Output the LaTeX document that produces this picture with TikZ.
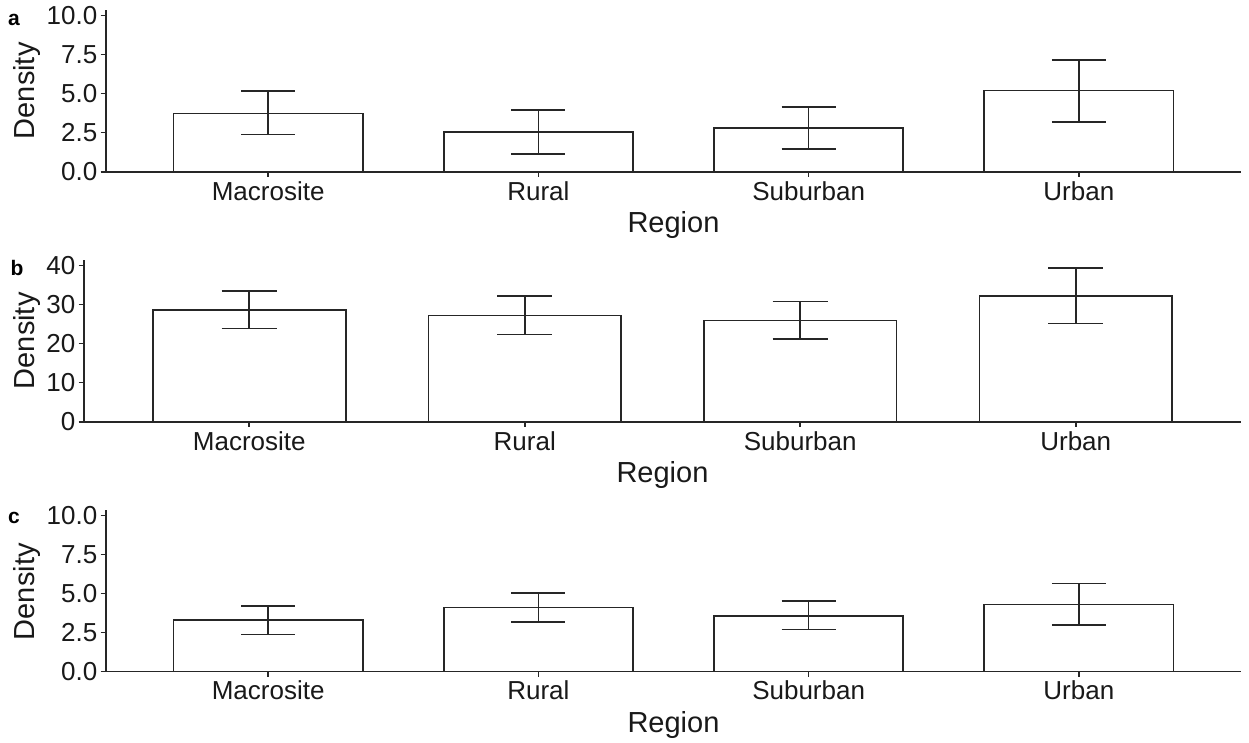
\documentclass[tikz,border=0pt]{standalone}
\usepackage{fontspec}
\setmainfont{Liberation Sans}
\tikzset{
  axisline/.style={line width=1.6pt, black!85, line cap=butt},
  barbox/.style={line width=1.6pt, black!85, fill=white},
  errbar/.style={line width=1.6pt, black!85},
  ticklbl/.style={font=\fontsize{26}{26}\selectfont, inner sep=0pt, text=black!90},
  titlelbl/.style={font=\fontsize{29}{29}\selectfont, inner sep=0pt, text=black!90},
  taglbl/.style={font=\fontsize{21}{21}\selectfont\bfseries, inner sep=0pt, anchor=base west},
}
% #1 id, #2 x0 of axis, #3 y of zero, #4 px per unit, #5 y ticks (value/label), #6 bars (name/val/lo/hi), #7 top value, #8 density title centre y
\newcommand{\drawpanel}[8]{%
  \pgfmathsetmacro{\pxA}{#2}%
  \pgfmathsetmacro{\pzY}{#3}%
  \pgfmathsetmacro{\pk}{#4}%
  \pgfmathsetmacro{\psp}{(1241-#2)/4.2}%
  \pgfmathsetmacro{\ptopY}{#3-#7*#4-5}%
  % axes
  \draw[axisline] (\pxA,\ptopY) coordinate (#1-ytop) -- (\pxA,\pzY) coordinate (#1-orig) -- (1241,\pzY) coordinate (#1-xend);
  % y ticks
  \foreach \tv/\tl in {#5}{%
    \pgfmathsetmacro{\ty}{\pzY-\tv*\pk}%
    \draw[axisline] (\pxA-5.5,\ty) -- (\pxA,\ty);
    \node[ticklbl, anchor=east] (#1-yt-\tv) at (\pxA-8.5,\ty) {\tl};
  }
  % bars
  \foreach \bn/\bv/\blo/\bhi [count=\bi from 0] in {#6}{%
    \pgfmathsetmacro{\cx}{\pxA+\psp*(0.6+\bi)}%
    \pgfmathsetmacro{\hw}{0.35*\psp}%
    \pgfmathsetmacro{\cw}{0.1*\psp}%
    \pgfmathsetmacro{\by}{\pzY-\bv*\pk}%
    \pgfmathsetmacro{\ely}{\pzY-\blo*\pk}%
    \pgfmathsetmacro{\ehy}{\pzY-\bhi*\pk}%
    \draw[barbox] (\cx-\hw,\pzY) rectangle (\cx+\hw,\by);
    \draw[errbar] (\cx-\cw,\ehy) -- (\cx+\cw,\ehy) (\cx,\ehy) -- (\cx,\ely) (\cx-\cw,\ely) -- (\cx+\cw,\ely);
    \draw[axisline] (\cx,\pzY) -- (\cx,\pzY+5.5);
    \node[ticklbl, anchor=base] (#1-xl-\bi) at (\cx,\pzY+28.3) {\bn};
  }
  \node[titlelbl, anchor=base] (#1-xtitle) at ({(\pxA+1241)/2},\pzY+61) {Region};
  \node[titlelbl, rotate=90, anchor=north] (#1-ytitle) at (13,#8) {Density};
}
\begin{document}
\begin{tikzpicture}[x=1pt,y=-1pt]
\useasboundingbox[fill=white] (0,0) rectangle (1249,742);
\drawpanel{pa}{106}{171.7}{15.64}{0/0.0,2.5/2.5,5/5.0,7.5/7.5,10/10.0}
  {Macrosite/3.73/2.37/5.16,Rural/2.52/1.13/3.93,Suburban/2.79/1.45/4.14,Urban/5.2/3.16/7.16}{10}{90.8}
\node[taglbl] (tag-a) at (8,25) {a};
\drawpanel{pb}{84}{421.7}{3.91}{0/0,10/10,20/20,30/30,40/40}
  {Macrosite/28.57/23.8/33.5,Rural/27.2/22.35/32.1,Suburban/25.9/21.15/30.7,Urban/32.1/25.1/39.3}{40}{340.8}
\node[taglbl] (tag-b) at (10.5,275) {b};
\drawpanel{pc}{106}{671.3}{15.6}{0/0.0,2.5/2.5,5/5.0,7.5/7.5,10/10.0}
  {Macrosite/3.27/2.35/4.19,Rural/4.10/3.16/5.02,Suburban/3.56/2.67/4.49,Urban/4.29/2.97/5.64}{10}{591.7}
\node[taglbl] (tag-c) at (8,523) {c};
\end{tikzpicture}
\end{document}
